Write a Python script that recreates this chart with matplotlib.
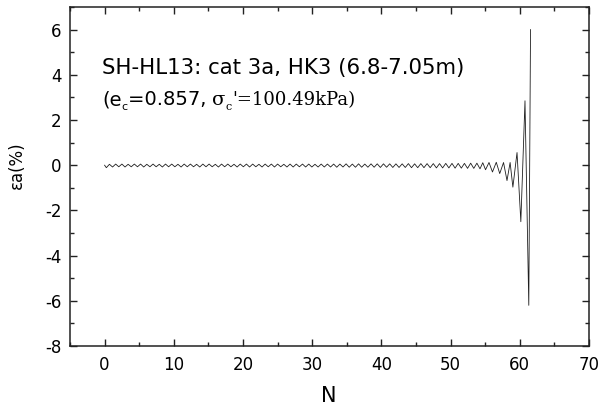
import matplotlib
matplotlib.use("Agg")
import matplotlib.pyplot as plt
from matplotlib.transforms import offset_copy
from matplotlib.ticker import MultipleLocator

plt.rcParams["axes.unicode_minus"] = False

# ---- data: axial strain peaks/troughs ----
N_start = [0.0]
ea_start = [0.0]

N_steady = [
    0.25, 0.70, 1.15, 1.60, 2.05, 2.50, 2.95, 3.40, 3.85, 4.30,
    4.75, 5.20, 5.65, 6.10, 6.55, 7.00, 7.45, 7.90, 8.35, 8.80,
    9.25, 9.70, 10.15, 10.60, 11.05, 11.50, 11.95, 12.40, 12.85, 13.30,
    13.75, 14.20, 14.65, 15.10, 15.55, 16.00, 16.45, 16.90, 17.35, 17.80,
    18.25, 18.70, 19.15, 19.60, 20.05, 20.50, 20.95, 21.40, 21.85, 22.30,
    22.75, 23.20, 23.65, 24.10, 24.55, 25.00, 25.45, 25.90, 26.35, 26.80,
    27.25, 27.70, 28.15, 28.60, 29.05, 29.50, 29.95, 30.40, 30.85, 31.30,
    31.75, 32.20, 32.65, 33.10, 33.55, 34.00, 34.45, 34.90, 35.35, 35.80,
    36.25, 36.70, 37.15, 37.60, 38.05, 38.50, 38.95, 39.40, 39.85, 40.30,
    40.75, 41.20, 41.65, 42.10, 42.55, 43.00, 43.45, 43.90, 44.35, 44.80,
    45.25, 45.70, 46.15, 46.60, 47.05, 47.50, 47.95, 48.40, 48.85, 49.30,
    49.75, 50.20, 50.65, 51.10, 51.55, 52.00, 52.45, 52.90, 53.35, 53.80,
]
ea_steady = [
    -0.11, 0.04, -0.08, 0.05, -0.07, 0.05, -0.08, 0.04, -0.07, 0.05,
    -0.07, 0.05, -0.08, 0.04, -0.07, 0.05, -0.07, 0.04, -0.08, 0.05,
    -0.07, 0.05, -0.07, 0.04, -0.08, 0.05, -0.07, 0.05, -0.07, 0.04,
    -0.08, 0.05, -0.07, 0.05, -0.07, 0.04, -0.08, 0.05, -0.07, 0.05,
    -0.07, 0.04, -0.08, 0.05, -0.07, 0.05, -0.08, 0.05, -0.07, 0.04,
    -0.08, 0.05, -0.07, 0.05, -0.08, 0.05, -0.07, 0.04, -0.08, 0.05,
    -0.08, 0.05, -0.07, 0.05, -0.08, 0.05, -0.08, 0.04, -0.08, 0.05,
    -0.08, 0.05, -0.08, 0.05, -0.09, 0.05, -0.08, 0.06, -0.09, 0.05,
    -0.09, 0.06, -0.09, 0.05, -0.09, 0.06, -0.09, 0.06, -0.10, 0.06,
    -0.09, 0.06, -0.10, 0.06, -0.10, 0.06, -0.10, 0.07, -0.11, 0.06,
    -0.11, 0.07, -0.11, 0.07, -0.11, 0.07, -0.12, 0.07, -0.12, 0.08,
    -0.12, 0.08, -0.13, 0.08, -0.13, 0.08, -0.14, 0.09, -0.14, 0.09,
]

N_failure = [54.25, 54.65, 55.05, 55.55, 56.05, 56.60, 57.10, 57.65,
             58.15, 58.60, 59.00, 59.60, 60.15, 60.75, 61.30, 61.55]
ea_failure = [-0.16, 0.11, -0.20, 0.12, -0.30, 0.13, -0.37, 0.12,
              -0.68, 0.12, -0.97, 0.56, -2.50, 2.85, -6.20, 6.00]

N_all = N_start + N_steady + N_failure
ea_all = ea_start + ea_steady + ea_failure

x_ticks = [0, 10, 20, 30, 40, 50, 60, 70]
y_ticks = [-8, -6, -4, -2, 0, 2, 4, 6]

# ---- figure ----
W, H = 601, 412
fig = plt.figure(figsize=(W / 100, H / 100), dpi=100)
ax = fig.add_axes([70 / W, 1 - 346 / H, (589 - 70) / W, (346 - 7) / H])

ax.plot(N_all, ea_all, color="#1e1e1e", lw=0.6)

ax.set_xlim(-5, 70)
ax.set_ylim(-8, 7)
ax.set_xticks(x_ticks)
ax.set_yticks(y_ticks)
ax.xaxis.set_minor_locator(MultipleLocator(5))
ax.yaxis.set_minor_locator(MultipleLocator(1))
ax.tick_params(which="both", direction="in", top=True, right=True,
               width=1.0, colors="#222222", labelcolor="black")
ax.tick_params(which="major", length=5)
ax.tick_params(which="minor", length=2.8)
ax.tick_params(axis="x", which="major", pad=7, labelsize=12)
ax.tick_params(axis="y", which="major", pad=6, labelsize=12)
for lab in ax.get_xticklabels() + ax.get_yticklabels():
    lab.set_family("DejaVu Sans")
for sp in ax.spines.values():
    sp.set_linewidth(1.1)
    sp.set_color("#222222")

fig.text(17 / W, 1 - 165 / H, "εa(%)", rotation=90, ha="center", va="center",
         fontsize=12, family="DejaVu Sans")
fig.text(329 / W, 1 - 396 / H, "N", ha="center", va="center",
         fontsize=15, family="DejaVu Sans")

# ---- annotation text ----
x0 = (102 - 70) / (589 - 70)
y1 = (346 - 74) / (346 - 7)
y2 = (346 - 105) / (346 - 7)
ax.text(x0, y1, "SH-HL13: cat 3a, HK3 (6.8-7.05m)", transform=ax.transAxes,
        fontsize=15.3, family="DejaVu Sans", va="baseline", ha="left")

fig.canvas.draw()
renderer = fig.canvas.get_renderer()
parts = [
    ("(e", "DejaVu Sans", 14, 0),
    ("c", "DejaVu Sans", 8, -5),
    ("=0.857, ", "DejaVu Sans", 14, 0),
    ("σ", "DejaVu Serif", 14, 0),
    ("c", "DejaVu Serif", 8, -5),
    ("'=100.49kPa)", "DejaVu Serif", 13, 0),
]
xoff = 0.0
for txt, fam, size, dy in parts:
    tr = offset_copy(ax.transAxes, fig=fig, x=xoff, y=dy, units="dots")
    t = ax.text(x0, y2, txt, transform=tr, fontsize=size, family=fam,
                va="baseline", ha="left")
    bb = t.get_window_extent(renderer)
    xoff += bb.width

fig.savefig("out.png", dpi=100)
